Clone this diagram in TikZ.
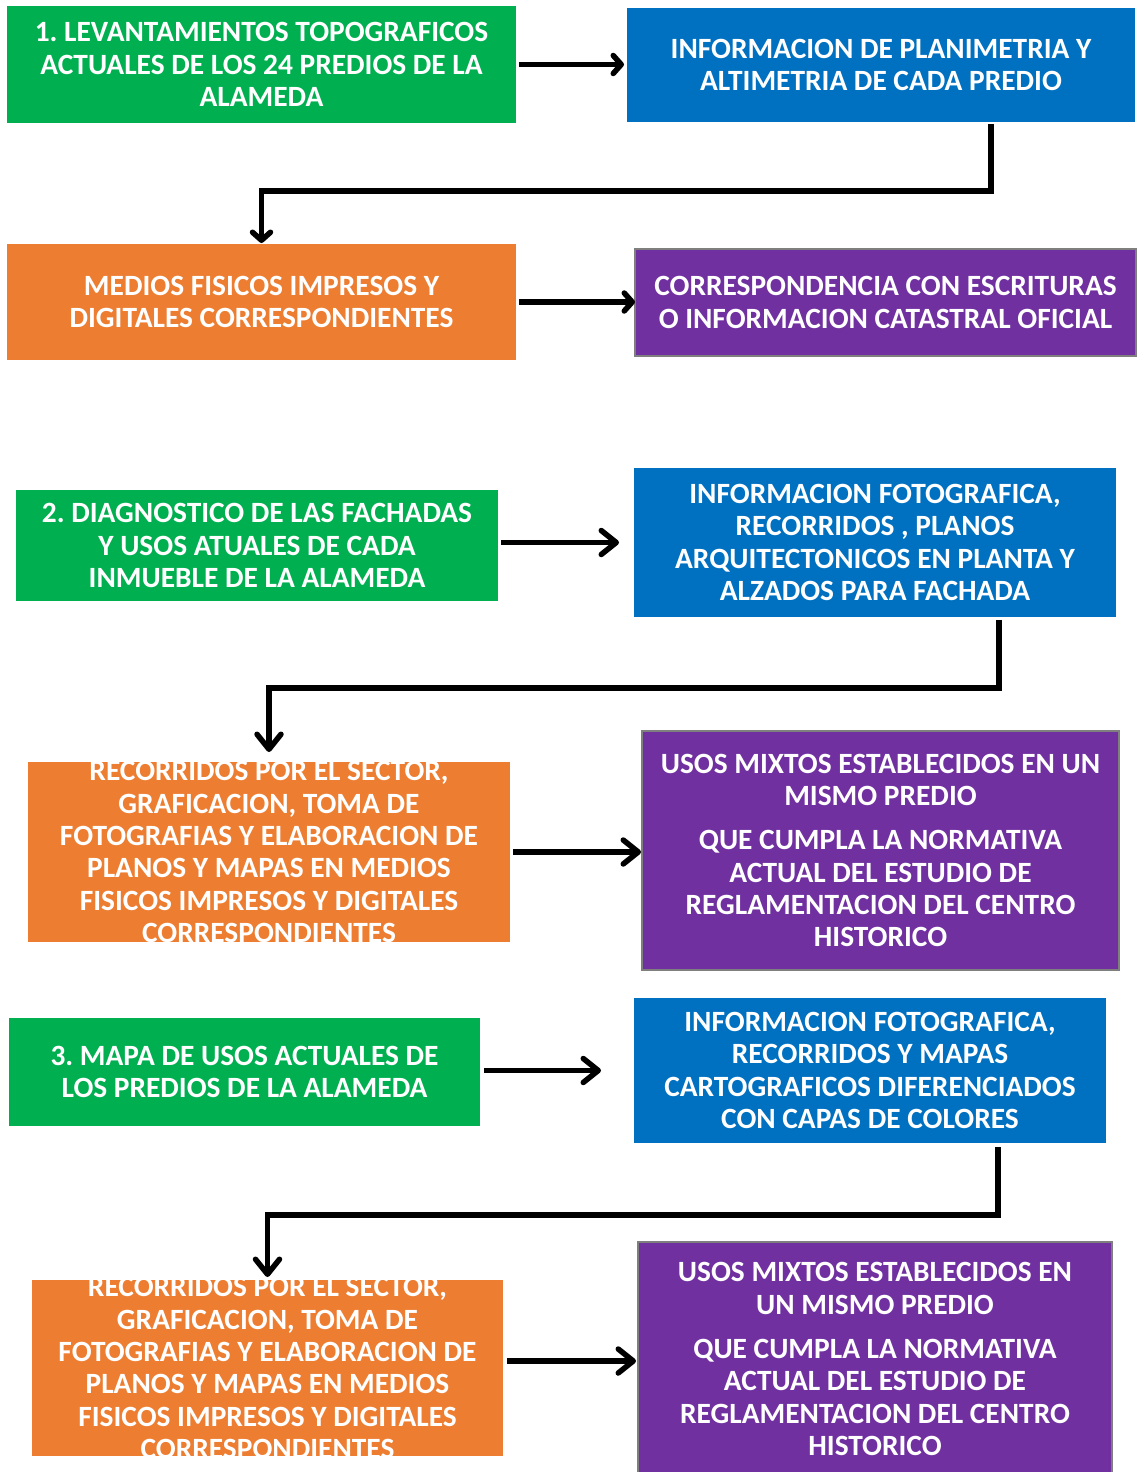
\documentclass[tikz,border=0pt]{standalone}
\usepackage{fontspec}
\setmainfont{Carlito}
\usetikzlibrary{arrows.meta}
\definecolor{bxgreen}{HTML}{00B050}
\definecolor{bxblue}{HTML}{0070C0}
\definecolor{bxorange}{HTML}{ED7D31}
\definecolor{bxpurple}{HTML}{7030A0}
\definecolor{bxedge}{HTML}{7F7F7F}
\frenchspacing
\tikzset{
  box/.style={rectangle, inner sep=0pt, outer sep=0pt, fill=#1},
  framed/.style={box=bxpurple, draw=bxedge, line width=2.5pt},
  caption/.style={text=white, align=center, inner sep=0pt,
    font=\fontsize{29.4}{32.3}\selectfont\bfseries},
  flow/.style={line width=5.5pt, -{Straight Barb[length=8pt,width=18pt,round]}},
  bigflow/.style={line width=5.5pt, -{Straight Barb[length=15pt,width=24pt,round]}},
}
\begin{document}
\begin{tikzpicture}[x=1pt,y=-1pt]
\fill[white] (0,0) rectangle (1137,1472);
\useasboundingbox (0,0) rectangle (1137,1472);

% ---------- block 1 ----------
\node[box=bxgreen, minimum width=509pt, minimum height=117pt] (a1) at (261.5,64.5) {};
\node[caption] (a1t) at (a1.center) {1. LEVANTAMIENTOS TOPOGRAFICOS\\ACTUALES DE LOS 24 PREDIOS DE LA\\ALAMEDA};
\node[box=bxblue, minimum width=508pt, minimum height=114pt] (b1) at (881,65) {};
\node[caption] (b1t) at (b1.center) {INFORMACION DE PLANIMETRIA Y\\ALTIMETRIA DE CADA PREDIO};
\node[box=bxorange, minimum width=509pt, minimum height=116pt] (c1) at (261.5,302) {};
\node[caption] (c1t) at (c1.center) {MEDIOS FISICOS IMPRESOS Y\\DIGITALES CORRESPONDIENTES};
\node[framed, minimum width=501pt, minimum height=107pt] (d1) at (885.5,302.5) {};
\node[caption] (d1t) at (d1.center) {CORRESPONDENCIA CON ESCRITURAS\\O INFORMACION CATASTRAL OFICIAL};

% ---------- block 2 ----------
\node[box=bxgreen, minimum width=482pt, minimum height=111pt] (a2) at (257,545.5) {};
\node[caption] (a2t) at (a2.center) {2. DIAGNOSTICO DE LAS FACHADAS\\Y USOS ATUALES DE CADA\\INMUEBLE DE LA ALAMEDA};
\node[box=bxblue, minimum width=482pt, minimum height=149pt] (b2) at (875,542.5) {};
\node[caption] (b2t) at (b2.center) {INFORMACION FOTOGRAFICA,\\RECORRIDOS , PLANOS\\ARQUITECTONICOS EN PLANTA Y\\ALZADOS PARA FACHADA};
\node[box=bxorange, minimum width=482pt, minimum height=180pt] (c2) at (269,852) {};
\node[caption] (c2t) at (c2.center) {RECORRIDOS POR EL SECTOR,\\GRAFICACION, TOMA DE\\FOTOGRAFIAS Y ELABORACION DE\\PLANOS Y MAPAS EN MEDIOS\\FISICOS IMPRESOS Y DIGITALES\\CORRESPONDIENTES};
\node[framed, minimum width=477pt, minimum height=239pt] (d2) at (880.5,850.5) {};
\node[caption] (d2t) at (d2.center) {USOS MIXTOS ESTABLECIDOS EN UN\\MISMO PREDIO\\[12pt]QUE CUMPLA LA NORMATIVA\\ACTUAL DEL ESTUDIO DE\\REGLAMENTACION DEL CENTRO\\HISTORICO};

% ---------- block 3 ----------
\node[box=bxgreen, minimum width=471pt, minimum height=108pt] (a3) at (244.5,1072) {};
\node[caption] (a3t) at (a3.center) {3. MAPA DE USOS ACTUALES DE\\LOS PREDIOS DE LA ALAMEDA};
\node[box=bxblue, minimum width=472pt, minimum height=145pt] (b3) at (870,1070.5) {};
\node[caption] (b3t) at (b3.center) {INFORMACION FOTOGRAFICA,\\RECORRIDOS Y MAPAS\\CARTOGRAFICOS DIFERENCIADOS\\CON CAPAS DE COLORES};
\node[box=bxorange, minimum width=471pt, minimum height=176pt] (c3) at (267.5,1368) {};
\node[caption] (c3t) at (c3.center) {RECORRIDOS POR EL SECTOR,\\GRAFICACION, TOMA DE\\FOTOGRAFIAS Y ELABORACION DE\\PLANOS Y MAPAS EN MEDIOS\\FISICOS IMPRESOS Y DIGITALES\\CORRESPONDIENTES};
\node[framed, minimum width=474pt, minimum height=238pt] (d3) at (875,1361) {};
\node[caption] (d3t) at (875,1359) {USOS MIXTOS ESTABLECIDOS EN\\UN MISMO PREDIO\\[12pt]QUE CUMPLA LA NORMATIVA\\ACTUAL DEL ESTUDIO DE\\REGLAMENTACION DEL CENTRO\\HISTORICO};

% ---------- horizontal arrows ----------
\draw[flow, shorten <=3pt, shorten >=3pt] (a1.east) -- (a1.east -| b1.west);
\draw[flow, shorten <=3pt] (c1.east) -- (c1.east -| d1.west);
\draw[bigflow, shorten <=3pt, shorten >=15pt] (b2.west -| a2.east) -- (b2.west);
\draw[bigflow, shorten <=3pt, shorten >=1pt] (c2.east) -- (c2.east -| d2.west);
\draw[bigflow, shorten <=4pt, shorten >=33pt] (b3.west -| a3.east) -- (b3.west);
\draw[bigflow, shorten <=4pt, shorten >=2pt] (d3.west -| c3.east) -- (d3.west);

% ---------- elbow connectors ----------
\draw[flow, shorten <=2pt, shorten >=1pt] ([xshift=110pt]b1.south) -- ++(0,69) -| (c1.north);
\draw[bigflow, shorten <=3pt, shorten >=10pt] ([xshift=124pt]b2.south) -- ++(0,71) -| (c2.north);
\draw[bigflow, shorten <=4pt, shorten >=3pt] ([xshift=128pt]b3.south) -- ++(0,72) -| (c3.north);
\end{tikzpicture}
\end{document}
